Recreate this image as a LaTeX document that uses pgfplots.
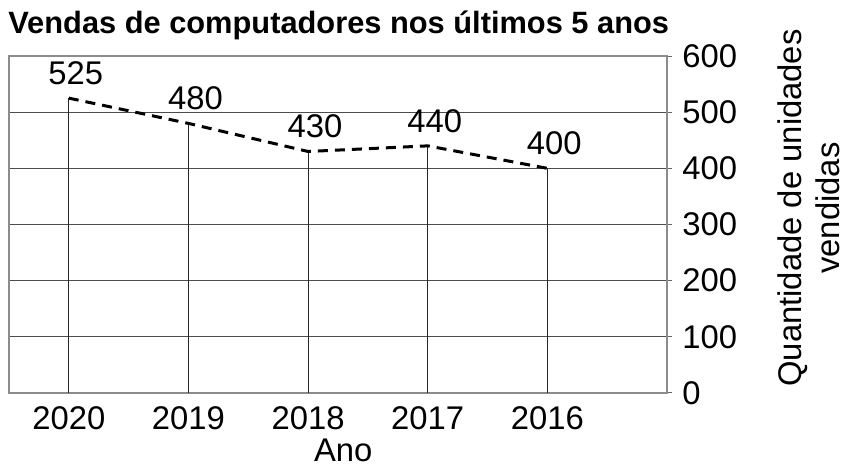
\documentclass[border=0pt]{standalone}
\usepackage{pgfplots}
\pgfplotsset{compat=1.18}
\usepackage{fontspec}
\setmainfont{Liberation Sans}
\begin{document}
\fontsize{16.4pt}{19pt}\selectfont
\begin{tikzpicture}
\path[use as bounding box] (-4.5pt,-41.5pt) rectangle (419.5pt,196.5pt);
\begin{axis}[
  at={(0,0)}, anchor=south west,
  scale only axis, width=329pt, height=168.5pt,
  xmin=-0.5, xmax=5, ymin=0, ymax=600,
  clip=false,
  xtick={0,1,2,3,4}, xticklabels={2020,2019,2018,2017,2016},
  x tick style={draw=none},
  extra x ticks={-0.5,5}, extra x tick labels={},
  extra x tick style={tick style={draw=black!45, line width=0.6pt}, major tick length=3pt, tick align=outside, grid=none},
  ytick={0,100,...,600},
  ytick pos=right, yticklabel pos=right,
  tick align=outside, major tick length=2.5pt,
  ymajorgrids, grid style={draw=black!70, line width=0.5pt},
  axis line style={draw=black!45, line width=0.6pt},
  y tick style={draw=black!60, line width=0.5pt},
  tick label style={font=\fontsize{16.4pt}{19pt}\selectfont},
  xticklabel style={yshift=1.5pt},
  yticklabel style={xshift=-0.5pt},
  /pgf/number format/assume math mode=true,
  xlabel={Ano},
  every axis x label/.style={at={(rel axis cs:0.508,0)}, anchor=base, yshift=-34.5pt, inner sep=0pt},
  ylabel={Quantidade de unidades\\vendidas},
  every axis y label/.style={at={(rel axis cs:1.2158,0.549)}, anchor=center, rotate=90, align=center},
  title={Vendas de computadores nos últimos 5 anos},
  every axis title/.style={at={(rel axis cs:0,1)}, anchor=base west, xshift=-0.5pt, yshift=11.5pt, inner sep=0pt, font=\fontsize{15.4pt}{18pt}\selectfont\bfseries},
]
\addplot[ycomb, draw=black!85, line width=0.55pt] coordinates {(0,525)(1,480)(2,430)(3,440)(4,400)};
\addplot[black, line width=1.5pt, dash pattern=on 5pt off 3.5pt,
  nodes near coords, point meta=explicit symbolic,
  nodes near coords style={anchor=south, xshift=3.5pt, yshift=0.5pt, solid, text=black}]
  coordinates {(0,525)[525] (1,480)[480] (2,430)[430] (3,440)[440] (4,400)[400]};
\end{axis}
\end{tikzpicture}
\end{document}
